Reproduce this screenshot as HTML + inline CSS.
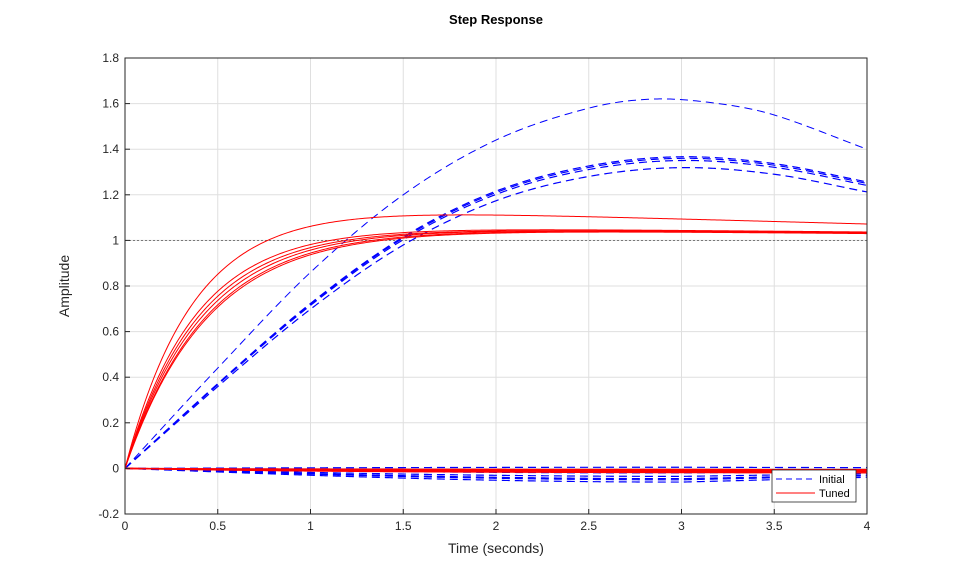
<!DOCTYPE html>
<html><head><meta charset="utf-8"><style>
body{margin:0;background:#fff;}
svg{display:block;font-family:"Liberation Sans",Arial,sans-serif;}
</style></head><body>
<svg id="s" width="959" height="577" xmlns="http://www.w3.org/2000/svg">
<rect width="959" height="577" fill="#fff"/>
<g id="grid" stroke="#dfdfdf" stroke-width="1"></g>
<line x1="125" y1="240.4" x2="867" y2="240.4" stroke="#555" stroke-width="0.8" stroke-dasharray="2,2"/>
<g id="curves" fill="none"></g>
<rect x="125" y="58" width="742" height="456" fill="none" stroke="#262626" stroke-width="1"/>
<g id="ticks" font-size="12" fill="#262626"></g>
<text x="496" y="24" font-size="13" font-weight="bold" text-anchor="middle" fill="#000">Step Response</text>
<text x="496" y="553" font-size="14" text-anchor="middle" fill="#262626">Time (seconds)</text>
<text transform="translate(69,286) rotate(-90)" font-size="14" text-anchor="middle" fill="#262626">Amplitude</text>
<rect x="772" y="470" width="84" height="32" fill="#fff" stroke="#262626" stroke-width="0.8"/>
<line x1="776" y1="479" x2="815" y2="479" stroke="#0000ff" stroke-dasharray="6,4"/>
<text x="819" y="483" font-size="11" fill="#000">Initial</text>
<line x1="776" y1="493" x2="815" y2="493" stroke="#ff0000"/>
<text x="819" y="497" font-size="11" fill="#000">Tuned</text>
</svg>
<script>
(function(){
const X=t=>125+t*185.5, Y=v=>468.4-v*228;
const g=document.getElementById('grid'),tk=document.getElementById('ticks'),cv=document.getElementById('curves');
const NS="http://www.w3.org/2000/svg";
function el(p,n,a,txt){const e=document.createElementNS(NS,n);for(const k in a)e.setAttribute(k,a[k]);if(txt!==undefined)e.textContent=txt;p.appendChild(e);return e;}
for(let i=0;i<=8;i++){const t=i*0.5,x=X(t);el(g,'line',{x1:x,y1:58,x2:x,y2:514});el(tk,'line',{x1:x,y1:514,x2:x,y2:509,stroke:'#262626'});el(tk,'text',{x:x,y:530,'text-anchor':'middle'},String(t));}
for(let i=0;i<=10;i++){const v=-0.2+i*0.2,y=Y(v);el(g,'line',{x1:125,y1:y,x2:867,y2:y});el(tk,'line',{x1:125,y1:y,x2:130,y2:y,stroke:'#262626'});el(tk,'text',{x:119,y:y+4,'text-anchor':'end'},(Math.round(v*10)/10).toString());}
function path(f,color,dash,w){let d='';for(let i=0;i<=400;i++){const t=i/100;d+=(i?'L':'M')+X(t).toFixed(2)+','+Y(f(t)).toFixed(2);}const a={d:d,stroke:color,'stroke-width':w||1};if(dash)a['stroke-dasharray']=dash;el(cv,'path',a);}
function spline(pts){return t=>{let i=0;while(i<pts.length-2&&t>pts[i+1][0])i++;const p0=pts[Math.max(i-1,0)],p1=pts[i],p2=pts[i+1],p3=pts[Math.min(i+2,pts.length-1)];const u=(t-p1[0])/(p2[0]-p1[0]);const m1=(p2[1]-p0[1])/(p2[0]-p0[0])*(p2[0]-p1[0]),m2=(p3[1]-p1[1])/(p3[0]-p1[0])*(p2[0]-p1[0]);const u2=u*u,u3=u2*u;return (2*u3-3*u2+1)*p1[1]+(u3-2*u2+u)*m1+(-2*u3+3*u2)*p2[1]+(u3-u2)*m2;};}
const mainPts=[[0,0],[0.5,0.37],[1,0.72],[1.5,1.01],[2,1.21],[2.5,1.32],[3,1.36],[3.5,1.33],[4,1.25]];
const topPts=[[0,0],[0.5,0.44],[1,0.86],[1.5,1.2],[2,1.44],[2.5,1.58],[2.85,1.62],[3.2,1.6],[3.5,1.55],[4,1.4]];
const B='#0000ff',D='8,5';
[-0.06,-0.05,-0.045,-0.035,-0.01,0.005,-0.02].forEach(a=>path(t=>a*Math.sin(Math.min(t/3,1)*Math.PI/2)*(t>3?1-(t-3)*0.35:1),B,D,1.2));
const s=spline(mainPts),sT=spline(topPts);
[1.0,0.993,0.97,1.005].forEach(k=>path(t=>s(t)*k,B,D,1.2));
path(sT,B,D,1);
[-0.02,-0.012,-0.008,-0.015,-0.005].forEach(a=>path(t=>a*(1-Math.exp(-t/1.2)),'#ff0000',null,1.3));
path(t=>(1-Math.exp(-t/0.37))*(1.16-0.022*t),'#ff0000',null,1);
[[0.38,1.065],[0.40,1.062],[0.42,1.062],[0.44,1.06],[0.45,1.058]].forEach(([tau,K])=>path(t=>(1-Math.exp(-t/tau))*(K-0.007*t),'#ff0000',null,1));
})();
</script>
</body></html>
